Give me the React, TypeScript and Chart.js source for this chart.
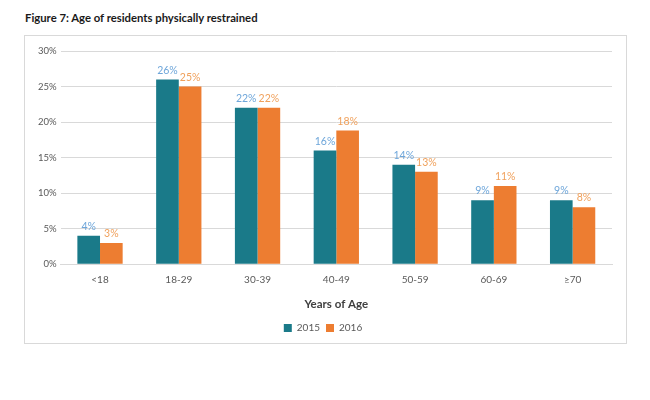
import React, { useEffect, useRef } from "react";
import { Chart, registerables } from "chart.js";

Chart.register(...registerables);

const categories = ["<18", "18-29", "30-39", "40-49", "50-59", "60-69", "≥70"];
const values2015 = [4, 26, 22, 16, 14, 9, 9];
const values2016 = [3, 25, 22, 18.8, 13, 11, 8];
const labels2015 = ["4%", "26%", "22%", "16%", "14%", "9%", "9%"];
const labels2016 = ["3%", "25%", "22%", "18%", "13%", "11%", "8%"];
const seriesNames = ["2015", "2016"];

const FONT = "Lato, 'Open Sans', sans-serif";

const labelPlugin = {
  id: "barLabels",
  afterDatasetsDraw(chart: any) {
    const ctx = chart.ctx;
    const colors = ["#6ea6da", "#f0a15c"];
    const texts = [labels2015, labels2016];
    chart.data.datasets.forEach((ds: any, i: number) => {
      const meta = chart.getDatasetMeta(i);
      meta.data.forEach((bar: any, j: number) => {
        ctx.save();
        ctx.font = `10.5px ${FONT}`;
        ctx.fillStyle = colors[i];
        ctx.textAlign = "center";
        ctx.textBaseline = "bottom";
        ctx.fillText(texts[i][j], bar.x, bar.y - 4);
        ctx.restore();
      });
    });
  },
};

export default function App() {
  const ref = useRef<HTMLCanvasElement>(null);
  useEffect(() => {
    if (!ref.current) return;
    const chart = new Chart(ref.current, {
      type: "bar",
      data: {
        labels: categories,
        datasets: [
          { label: seriesNames[0], data: values2015, backgroundColor: "#1a7a89", barPercentage: 1, categoryPercentage: 0.575 },
          { label: seriesNames[1], data: values2016, backgroundColor: "#ed7d31", barPercentage: 1, categoryPercentage: 0.575 },
        ],
      },
      options: {
        animation: false,
        responsive: false,
        maintainAspectRatio: false,
        layout: { padding: { top: 15, right: 14, left: 9, bottom: 0 } },
        plugins: {
          tooltip: { enabled: false },
          legend: {
            position: "bottom",
            labels: { boxWidth: 8, boxHeight: 8, padding: 6, color: "#595959", font: { size: 10, family: FONT } },
          },
        },
        scales: {
          x: {
            grid: { display: false },
            border: { color: "#d9d9d9" },
            ticks: { color: "#595959", font: { size: 10, family: FONT }, padding: 2 },
            title: { display: true, text: "Years of Age", color: "#404040", font: { size: 11.5, weight: "bold", family: FONT }, padding: { top: 9, bottom: 6 } },
          },
          y: {
            min: 0,
            max: 30,
            ticks: { stepSize: 5, color: "#595959", font: { size: 9.5, family: FONT }, padding: 4, callback: (v: any) => v + "%" },
            grid: { color: "#d9d9d9", drawTicks: false },
            border: { display: false },
          },
        },
      },
      plugins: [labelPlugin],
    });
    return () => chart.destroy();
  }, []);
  return (
    <div style={{ position: "relative", width: 650, height: 400 }}>
      <div style={{ position: "absolute", left: 17, top: 3, fontFamily: FONT, fontWeight: "bold", fontSize: 11.3, color: "#1a1a1a" }}>
        Figure 7: Age of residents physically restrained
      </div>
      <div style={{ position: "absolute", left: 16, top: 27, width: 601, height: 307, border: "1px solid #d9d9d9" }}>
        <canvas ref={ref} width={601} height={307} />
      </div>
    </div>
  );
}
